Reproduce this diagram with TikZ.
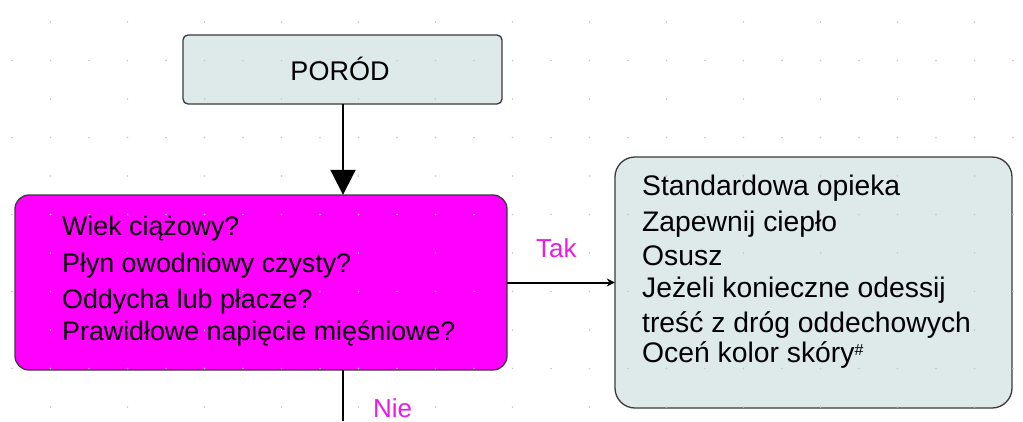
\documentclass[tikz,border=0pt]{standalone}
\usepackage{fontspec}
\setmainfont{Liberation Sans}
\usetikzlibrary{arrows.meta}
\definecolor{boxgray}{HTML}{DEE9EA}
\definecolor{mag}{HTML}{FF00FF}
\definecolor{labmag}{HTML}{E81CE8}
\definecolor{edge}{HTML}{3A3A3A}
\tikzset{
  lightbox/.style={draw=edge, line width=1.3pt, fill=boxgray},
  magbox/.style={draw=edge, line width=1.3pt, fill=mag},
  txt/.style={anchor=base west, inner sep=0pt, font=\fontsize{26.8}{30}\selectfont},
  rtxt/.style={anchor=base west, inner sep=0pt, font=\fontsize{28.3}{30}\selectfont},
  lab/.style={anchor=base west, inner sep=0pt, text=labmag, font=\fontsize{26}{30}\selectfont},
  conn/.style={draw=black, line width=2pt},
  griddot/.style={fill=gray!45}
}
\begin{document}
\begin{tikzpicture}[x=1pt,y=-1pt]
\useasboundingbox (0,0) rectangle (1023,421);
\fill[white] (0,0) rectangle (1023,421);
% boxes
\path[lightbox, rounded corners=5pt] (183,35) rectangle (502,104);
\node[inner sep=0pt, minimum width=319pt, minimum height=69pt] (porod) at (342.5,69.5) {};
\path[magbox, rounded corners=14pt] (15,195) rectangle (507,370);
\node[inner sep=0pt, minimum width=492pt, minimum height=175pt] (q) at (261,282.5) {};
\path[lightbox, rounded corners=20pt] (615,157) rectangle (1012,408);
\node[inner sep=0pt, minimum width=397pt, minimum height=251pt] (care) at (813.5,282.5) {};
% grid dots
\foreach \k in {0,...,10}{
  \foreach \j in {0,...,26}{
    \pgfmathtruncatemacro{\show}{mod(\k,2)==1 || mod(\j,2)==1}
    \ifnum\show=1
      \fill[griddot] ({12+38.5*\j},{22+38.5*\k}) circle (0.9pt);
    \fi
  }
}
% texts
\node[anchor=base, inner sep=0pt, font=\fontsize{27}{30}\selectfont] (porodtxt) at (340,80) {PORÓD};
\node[txt] (q1) at (62,235) {Wiek ciążowy?};
\node[txt] (q2) at (62,272) {Płyn owodniowy czysty?};
\node[txt] (q3) at (62,308) {Oddycha lub płacze?};
\node[txt] (q4) at (62,340) {Prawidłowe napięcie mięśniowe?};
\node[rtxt] (c1) at (642,195) {Standardowa opieka};
\node[rtxt] (c2) at (642,231) {Zapewnij ciepło};
\node[rtxt] (c3) at (642,265) {Osusz};
\node[rtxt] (c4) at (642,297) {Jeżeli konieczne odessij};
\node[rtxt] (c5) at (642,332) {treść z dróg oddechowych};
\node[rtxt] (c6) at (642,362) {Oceń kolor skóry{\fontsize{16}{16}\selectfont\raisebox{7pt}{\#}}};
\node[lab] (tak) at (536,257) {Tak};
\node[lab] (nie) at (373,417) {Nie};
% connectors
\coordinate (down) at (343,421);
\draw[conn, -{Triangle[width=25pt,length=25pt]}] (porod.south -| down) -- (q.north -| down);
\draw[conn, -{Stealth[width=8pt,length=8pt]}] (q.east) -- (care.west);
\draw[conn] (q.south -| down) -- (down);
\end{tikzpicture}
\end{document}
